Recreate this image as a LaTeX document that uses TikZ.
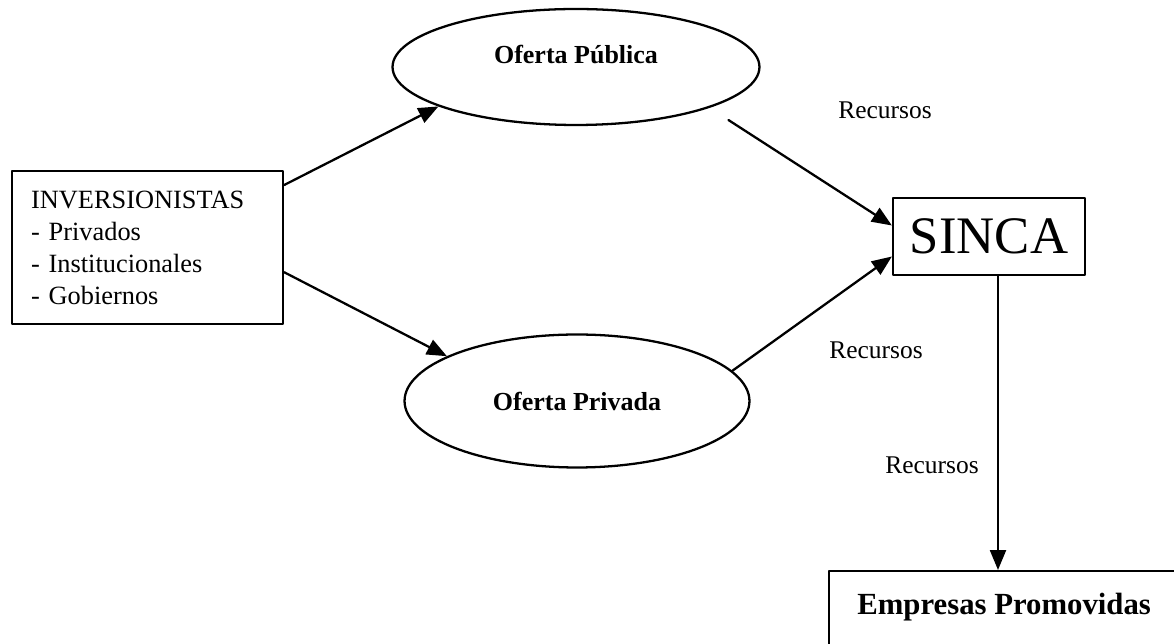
\documentclass[tikz,border=0pt]{standalone}
\usepackage{fontspec}
\setmainfont{Liberation Serif}
\usetikzlibrary{positioning}
\usetikzlibrary{calc}
\usetikzlibrary{arrows.meta}
\usetikzlibrary{shapes}

\tikzset{
  caja/.style={draw, line width=1.3pt, rectangle},
  ovalo/.style={draw, line width=1.3pt, ellipse, font=\fontsize{14.8}{17}\selectfont\bfseries},
  rotulo/.style={font=\fontsize{14.5}{18.2}\selectfont},
  flecha/.style={->, line width=1.3pt}
}

\begin{document}
\begin{tikzpicture}[line cap=round,line join=round,x=0.02cm,y=-0.02cm,>={Triangle[length=0.4cm,width=0.32cm]}]
	\path[use as bounding box, clip] (0,0) rectangle (1174,644);
	% cajas y ovalos
	\node[caja, rotulo, font=\fontsize{15}{18.2}\selectfont, anchor=north west, minimum height=3.06cm, text width=4.66cm, inner xsep=0.38cm, align=left] (inv) at (11,170) {INVERSIONISTAS\\- Privados\\- Institucionales\\- Gobiernos};
	\node[ovalo, minimum width=7.34cm, minimum height=2.32cm, text height=0.3cm, text depth=0.42cm] (pub) at (576,67) {Oferta Pública};
	\node[ovalo, minimum width=6.9cm, minimum height=2.66cm] (priv) at (577,401) {Oferta Privada};
	\node[caja, minimum width=3.84cm, minimum height=1.54cm, font=\fontsize{30}{32}\selectfont] (sinca) at (989,236.5) {SINCA};
	\node[caja, anchor=north west, minimum width=7cm, text height=0.5cm, text depth=1.3cm, inner ysep=0.36cm, font=\fontsize{17.5}{20}\selectfont\bfseries] (emp) at (828,570) {Empresas Promovidas};
	% rotulos
	\node[rotulo] (rec1) at (885,110) {Recursos};
	\node[rotulo] (rec2) at (876,350) {Recursos};
	\node[rotulo] (rec3) at (932,465) {Recursos};
	% flechas
	\draw[flecha] ($(inv.north east)+(0,15)$) -- (pub.196);
	\draw[flecha] ($(inv.south east)+(0,-53)$) -- (priv.161);
	\draw[flecha, shorten <=0.45cm] (pub.343) -- ($(sinca.west)+(0,-11)$);
	\draw[flecha] (priv.11) -- ($(sinca.west)+(0,20)$);
	\coordinate (bajo) at ($(sinca.south)+(9,0)$);
	\draw[flecha] (bajo) -- (bajo |- emp.north);
\end{tikzpicture}
\end{document}
